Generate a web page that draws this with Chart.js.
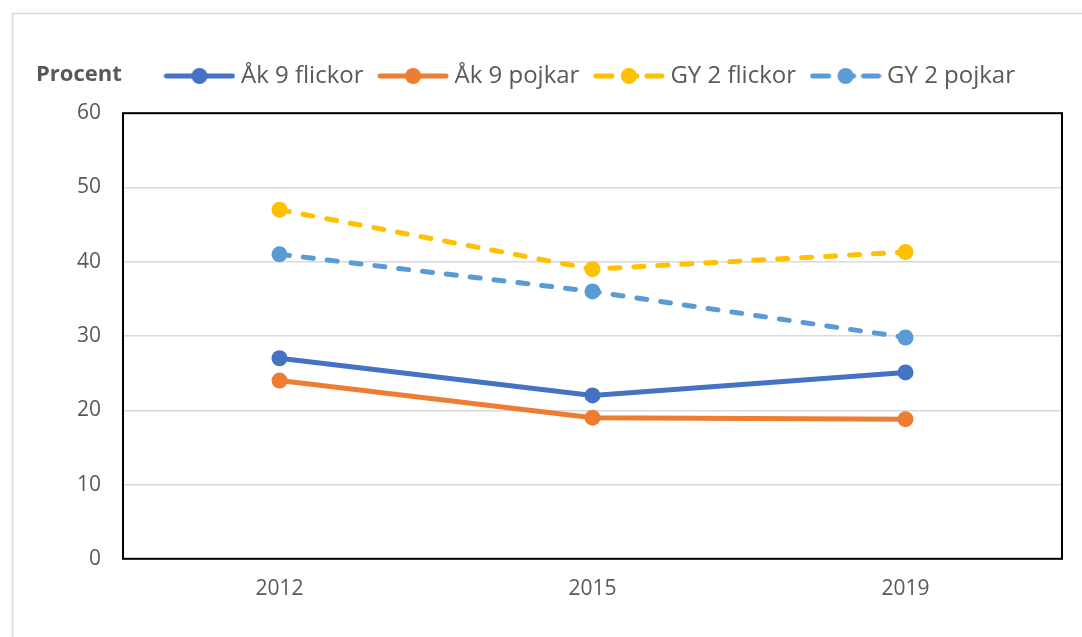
<!DOCTYPE html>
<html lang="sv">
<head>
<meta charset="utf-8">
<title>Procent</title>
<script src="https://cdn.jsdelivr.net/npm/chart.js@4"></script>
<style>
    html, body { margin: 0; padding: 0; background: #fff; }
    #wrap { width: 1082px; height: 637px; }
</style>
</head>
<body>
<div id="wrap"><canvas id="chart" width="1082" height="637"></canvas></div>
<script>
// Data
const years = ['2012', '2015', '2019'];
const ak9Flickor = [27, 22, 25.1];
const ak9Pojkar = [24, 19, 18.8];
const gy2Flickor = [47, 39, 41.3];
const gy2Pojkar = [41, 36, 29.8];
const yTicks = [0, 10, 20, 30, 40, 50, 60];

const FONT = "'Open Sans', 'Liberation Sans', sans-serif";
const TEXT_COLOR = '#595959';

// Small legend sample: line + marker, like Excel
function legendSample(color, dashed) {
    const c = document.createElement('canvas');
    c.width = 72;
    c.height = 18;
    const ctx = c.getContext('2d');
    ctx.strokeStyle = color;
    ctx.fillStyle = color;
    ctx.lineWidth = 5;
    ctx.lineCap = 'round';
    ctx.beginPath();
    if (dashed) {
        ctx.moveTo(3, 9); ctx.lineTo(19, 9);
        ctx.moveTo(36, 9); ctx.lineTo(44, 9);
        ctx.moveTo(54, 9); ctx.lineTo(69, 9);
    } else {
        ctx.moveTo(3, 9); ctx.lineTo(69, 9);
    }
    ctx.stroke();
    ctx.beginPath();
    ctx.arc(36, 9, 8, 0, Math.PI * 2);
    ctx.fill();
    return c;
}

function makeDataset(label, data, color, dashed) {
    return {
        label: label,
        data: data,
        borderColor: color,
        backgroundColor: color,
        borderWidth: 5,
        borderDash: dashed ? [10, 14] : [],
        borderCapStyle: 'round',
        pointRadius: 8,
        pointHoverRadius: 8,
        pointBackgroundColor: color,
        pointBorderWidth: 0,
        tension: 0,
        fill: false,
        sample: legendSample(color, dashed)
    };
}

// Frame, plot border and "Procent" label
const decorations = {
    id: 'decorations',
    beforeDraw(chart) {
        const ctx = chart.ctx;
        ctx.save();
        ctx.fillStyle = '#fff';
        ctx.fillRect(0, 0, chart.width, chart.height);
        ctx.strokeStyle = '#d9d9d9';
        ctx.lineWidth = 1.5;
        ctx.beginPath();
        ctx.moveTo(12.5, chart.height);
        ctx.lineTo(12.5, 13.5);
        ctx.lineTo(chart.width, 13.5);
        ctx.stroke();
        ctx.restore();
    },
    beforeDatasetsDraw(chart) {
        const a = chart.chartArea;
        const ctx = chart.ctx;
        ctx.save();
        ctx.strokeStyle = '#000';
        ctx.lineWidth = 2;
        ctx.strokeRect(a.left, a.top, a.right - a.left, a.bottom - a.top);
        ctx.restore();
    },
    afterDraw(chart) {
        const ctx = chart.ctx;
        ctx.save();
        ctx.fillStyle = TEXT_COLOR;
        ctx.font = 'bold 22px ' + FONT;
        ctx.textBaseline = 'middle';
        ctx.textAlign = 'left';
        ctx.fillText('Procent', 36, 75);
        ctx.restore();
    }
};

new Chart(document.getElementById('chart'), {
    type: 'line',
    data: {
        labels: years,
        datasets: [
            makeDataset('Åk 9 flickor', ak9Flickor, '#4472C4', false),
            makeDataset('Åk 9 pojkar', ak9Pojkar, '#ED7D31', false),
            makeDataset('GY 2 flickor', gy2Flickor, '#FFC000', true),
            makeDataset('GY 2 pojkar', gy2Pojkar, '#5B9BD5', true)
        ]
    },
    options: {
        responsive: false,
        animation: false,
        layout: {
            padding: { top: 44, left: 55, right: 20, bottom: 17 }
        },
        plugins: {
            legend: {
                position: 'top',
                fullSize: false,
                align: 'center',
                labels: {
                    usePointStyle: true,
                    pointStyleWidth: 59,
                    padding: 20,
                    color: TEXT_COLOR,
                    font: { family: FONT, size: 24 },
                    generateLabels(chart) {
                        return chart.data.datasets.map((ds, i) => ({
                            text: ds.label,
                            pointStyle: ds.sample,
                            fillStyle: ds.borderColor,
                            strokeStyle: ds.borderColor,
                            lineWidth: 0,
                            fontColor: TEXT_COLOR,
                            hidden: false,
                            datasetIndex: i
                        }));
                    }
                }
            },
            // spacer between legend and plot
            title: {
                display: true,
                text: '',
                weight: 500,
                font: { size: 1 },
                padding: { top: 0, bottom: 14 }
            },
            tooltip: { enabled: false }
        },
        scales: {
            x: {
                offset: true,
                grid: { display: false, drawTicks: false },
                border: { display: false },
                ticks: {
                    color: TEXT_COLOR,
                    padding: 18,
                    font: { family: FONT, size: 21 }
                }
            },
            y: {
                min: 0,
                max: 60,
                afterBuildTicks(axis) {
                    axis.ticks = yTicks.map(v => ({ value: v }));
                },
                grid: {
                    color: '#d9d9d9',
                    lineWidth: 1.5,
                    drawTicks: false
                },
                border: { display: false },
                ticks: {
                    color: TEXT_COLOR,
                    padding: 22,
                    font: { family: FONT, size: 21 }
                }
            }
        }
    },
    plugins: [decorations]
});
</script>
</body>
</html>
